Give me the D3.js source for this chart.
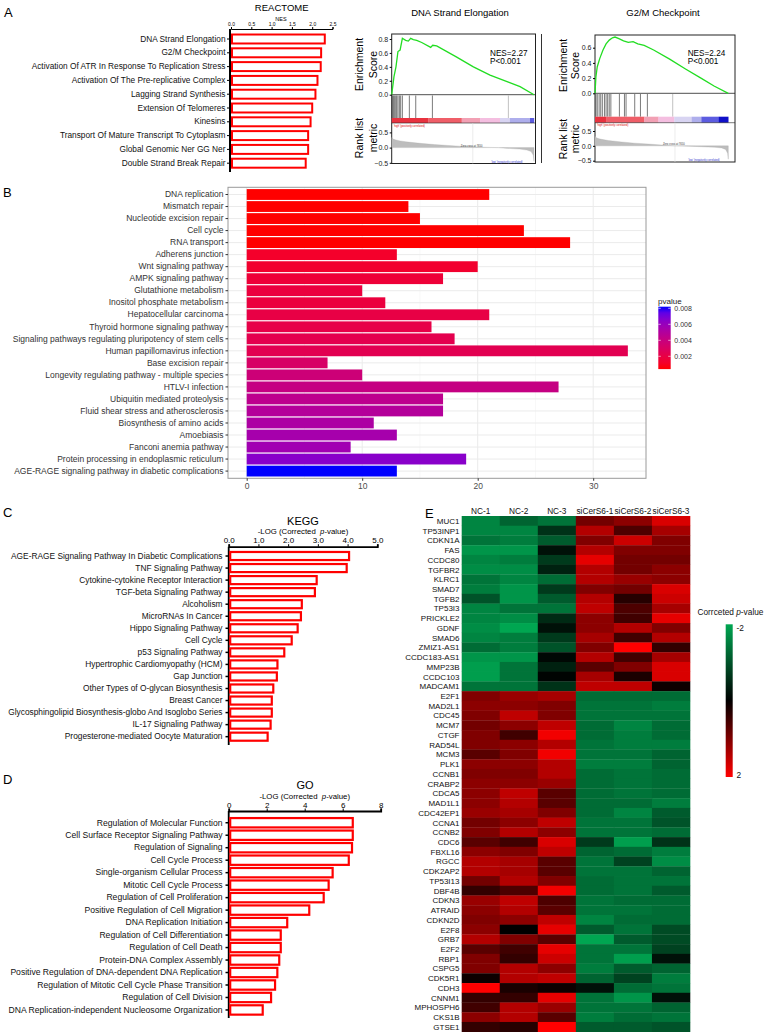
<!DOCTYPE html>
<html><head><meta charset="utf-8">
<script src="https://cdn.jsdelivr.net/npm/d3@7"></script>
<style>body{margin:0;background:#fff} svg{font-family:"Liberation Sans",Arial,sans-serif}</style>
</head><body><svg id="c" width="778" height="1035"></svg>
<script>
// ---------- DATA ----------
const reactomeTerms = ["DNA Strand Elongation","G2/M Checkpoint","Activation Of ATR In Response To Replication Stress","Activation Of The Pre-replicative Complex","Lagging Strand Synthesis","Extension Of Telomeres","Kinesins","Transport Of Mature Transcript To Cytoplasm","Global Genomic Ner GG Ner","Double Strand Break Repair"];
const reactomeNES = [2.31,2.22,2.21,2.13,2.08,2.0,1.96,1.9,1.9,1.84];
const reactomeTicks = [0,0.5,1,1.5,2,2.5];

const gseaTitles = ["DNA Strand Elongation","G2/M Checkpoint"];
const gseaNES = ["NES=2.27","NES=2.24"];
const gseaP = ["P<0.001","P<0.001"];
const es1 = [[0,0],[0.016,0.26],[0.03,0.40],[0.044,0.62],[0.059,0.64],[0.075,0.81],[0.098,0.78],[0.117,0.77],[0.133,0.81],[0.152,0.79],[0.176,0.78],[0.211,0.75],[0.274,0.68],[0.288,0.71],[0.316,0.70],[0.457,0.54],[0.574,0.40],[0.691,0.28],[0.82,0.18],[0.902,0.115],[1,0]];
const es2 = [[0,0],[0.007,0.22],[0.017,0.35],[0.036,0.46],[0.06,0.57],[0.083,0.65],[0.107,0.70],[0.131,0.73],[0.15,0.74],[0.179,0.72],[0.214,0.69],[0.25,0.67],[0.286,0.68],[0.321,0.65],[0.369,0.63],[0.44,0.57],[0.56,0.45],[0.679,0.32],[0.798,0.196],[0.893,0.096],[1,0]];
const hits1 = [0.005,0.012,0.019,0.028,0.035,0.044,0.054,0.063,0.075,0.124,0.169,0.286,0.82];
const hits2 = [0.007,0.017,0.031,0.043,0.055,0.071,0.083,0.095,0.107,0.119,0.183,0.221,0.233,0.298,0.341,0.393,0.583];
const rank1 = [[0,0.33],[0.01,0.28],[0.03,0.25],[0.06,0.22],[0.1,0.19],[0.2,0.14],[0.3,0.1],[0.4,0.07],[0.5,0.04],[0.6,0.02],[0.7,0.005],[0.75,0],[0.8,-0.02],[0.9,-0.05],[0.95,-0.08],[0.98,-0.13],[0.995,-0.25],[1,-0.45]];
const rank2 = [[0,0.33],[0.01,0.27],[0.03,0.24],[0.06,0.21],[0.1,0.18],[0.2,0.13],[0.3,0.09],[0.4,0.06],[0.5,0.03],[0.6,0.0],[0.7,-0.01],[0.8,-0.03],[0.9,-0.05],[0.95,-0.07],[0.98,-0.12],[0.995,-0.25],[1,-0.45]];
const barStops1 = [0,0.258,0.492,0.621,0.761,0.831,0.972,1];
const barStops2 = [0,0.083,0.369,0.476,0.595,0.726,0.798,0.929,1];
const barColors = ["#E8323F","#EF5E68","#F2A0B4","#F4BEE0","#D8D4F2","#AEAEEC","#5C5CE0","#1010C8"];
const esTicks1 = [0,0.2,0.4,0.6,0.8];
const esTicks2 = [0,0.2,0.4,0.6];
const rankTicks = [-0.5,0,0.5];

const keggBTerms = ["DNA replication","Mismatch repair","Nucleotide excision repair","Cell cycle","RNA transport","Adherens junction","Wnt signaling pathway","AMPK signaling pathway","Glutathione metabolism","Inositol phosphate metabolism","Hepatocellular carcinoma","Thyroid hormone signaling pathway","Signaling pathways regulating pluripotency of stem cells","Human papillomavirus infection","Base excision repair","Longevity regulating pathway - multiple species","HTLV-I infection","Ubiquitin mediated proteolysis","Fluid shear stress and atherosclerosis","Biosynthesis of amino acids","Amoebiasis","Fanconi anemia pathway","Protein processing in endoplasmic reticulum","AGE-RAGE signaling pathway in diabetic complications"];
const keggBCounts = [21,14,15,24,28,13,20,17,10,12,21,16,18,33,7,10,27,17,17,11,13,9,19,13];
const keggBPvalues = [0.0004,0.0004,0.0004,0.0004,0.0004,0.0012,0.0013,0.0016,0.0018,0.0018,0.0020,0.0021,0.0023,0.0024,0.0031,0.0037,0.0041,0.0045,0.0049,0.0052,0.0055,0.0057,0.0065,0.0082];
const keggBTicks = [0,10,20,30];
const pvalueTicks = [0.002,0.004,0.006,0.008];

const keggTerms = ["AGE-RAGE Signaling Pathway In Diabetic Complications","TNF Signaling Pathway","Cytokine-cytokine Receptor Interaction","TGF-beta Signaling Pathway","Alcoholism","MicroRNAs In Cancer","Hippo Signaling Pathway","Cell Cycle","p53 Signaling Pathway","Hypertrophic Cardiomyopathy (HCM)","Gap Junction","Other Types of O-glycan Biosynthesis","Breast Cancer","Glycosphingolipid Biosynthesis-globo And Isoglobo Series","IL-17 Signaling Pathway","Progesterone-mediated Oocyte Maturation"];
const keggVals = [4.05,3.97,2.96,2.9,2.46,2.43,2.32,2.12,1.87,1.64,1.62,1.5,1.45,1.45,1.41,1.31];
const keggTicks = [0,1,2,3,4,5];

const goTerms = ["Regulation of Molecular Function","Cell Surface Receptor Signaling Pathway","Regulation of Signaling","Cell Cycle Process","Single-organism Cellular Process","Mitotic Cell Cycle Process","Regulation of Cell Proliferation","Positive Regulation of Cell Migration","DNA Replication Initiation","Regulation of Cell Differentiation","Regulation of Cell Death","Protein-DNA Complex Assembly","Positive Regulation of DNA-dependent DNA Replication","Regulation of Mitotic Cell Cycle Phase Transition","Regulation of Cell Division","DNA Replication-independent Nucleosome Organization"];
const goVals = [6.53,6.53,6.49,6.32,5.47,5.26,5.0,4.24,3.08,2.74,2.74,2.66,2.56,2.44,2.23,1.79];
const goTicks = [0,2,4,6,8];

const samples = ["NC-1","NC-2","NC-3","siCerS6-1","siCerS6-2","siCerS6-3"];
const genes = ["MUC1","TP53INP1","CDKN1A","FAS","CCDC80","TGFBR2","KLRC1","SMAD7","TGFB2","TP53I3","PRICKLE2","GDNF","SMAD6","ZMIZ1-AS1","CCDC183-AS1","MMP23B","CCDC103","MADCAM1","E2F1","MAD2L1","CDC45","MCM7","CTGF","RAD54L","MCM3","PLK1","CCNB1","CRABP2","CDCA5","MAD1L1","CDC42EP1","CCNA1","CCNB2","CDC6","FBXL16","RGCC","CDK2AP2","TP53I13","DBF4B","CDKN3","ATRAID","CDKN2D","E2F8","GRB7","E2F2","RBP1","CSPG5","CDK5R1","CDH3","CNNM1","MPHOSPH6","CKS1B","GTSE1"];
const heat = [
[-1.6,-1.2,-1.4,0.9,1.1,1.7],
[-1.6,-1.6,-0.6,1.4,0.6,1.3],
[-1.4,-1.5,-1.1,1.0,1.6,1.0],
[-1.8,-1.8,-0.2,1.4,1.0,1.0],
[-1.6,-1.5,-0.7,1.8,0.9,0.9],
[-1.7,-1.7,-0.4,1.4,0.9,1.1],
[-1.4,-1.6,-1.3,1.4,1.2,1.1],
[-1.5,-1.8,-0.7,1.0,0.9,1.7],
[-1.0,-1.8,-1.1,1.4,0.3,1.6],
[-1.6,-1.4,-1.4,1.5,0.6,1.3],
[-1.6,-1.7,-0.5,1.1,0.5,1.8],
[-1.7,-2.0,-0.2,1.1,1.4,1.0],
[-1.6,-1.5,-0.7,1.3,0.5,1.4],
[-1.3,-1.5,-1.0,1.0,2.0,0.4],
[-1.8,-1.8,-0.1,1.4,0.5,1.3],
[-1.9,-1.4,-0.4,0.7,1.0,1.7],
[-1.9,-1.4,-0.05,1.3,0.2,1.7],
[-1.4,-1.4,-0.6,1.5,1.5,0.1],
[1.0,1.2,1.3,-1.3,-1.3,-1.3],
[1.1,1.1,1.0,-1.4,-1.4,-1.5],
[1.0,1.5,1.0,-1.4,-1.4,-1.4],
[0.9,1.1,1.5,-1.3,-1.6,-1.3],
[1.0,0.5,1.9,-1.3,-1.5,-1.3],
[1.0,1.1,1.4,-1.4,-1.5,-1.5],
[0.7,1.0,1.9,-1.4,-1.4,-1.2],
[1.1,1.1,1.4,-1.5,-1.5,-1.2],
[1.0,1.0,1.4,-1.3,-1.4,-1.3],
[1.1,1.1,1.2,-1.3,-1.4,-1.3],
[1.1,1.5,0.7,-1.3,-1.4,-1.3],
[1.1,1.4,0.7,-1.3,-1.3,-1.5],
[1.2,1.3,1.0,-1.3,-1.6,-1.1],
[0.9,1.1,1.5,-1.4,-1.4,-1.0],
[1.0,1.4,1.1,-1.4,-1.4,-1.3],
[0.7,0.5,1.7,-0.7,-1.9,-0.6],
[1.1,1.0,1.5,-1.2,-1.3,-1.5],
[1.4,1.3,0.7,-1.4,-0.8,-1.7],
[1.4,1.3,0.7,-1.4,-1.4,-1.2],
[0.9,1.4,1.0,-1.3,-1.4,-1.4],
[0.4,0.6,1.9,-1.3,-1.4,-1.1],
[1.2,1.5,0.6,-1.4,-1.3,-1.3],
[1.1,1.4,0.7,-1.4,-1.4,-1.3],
[1.0,1.1,1.5,-1.6,-1.3,-1.3],
[1.1,0.0,1.8,-1.1,-1.4,-0.9],
[1.4,1.0,0.7,-2.0,-1.1,-0.9],
[0.7,0.5,1.8,-1.4,-1.4,-0.8],
[1.0,0.4,1.6,-1.4,-1.9,-0.2],
[1.0,1.4,1.1,-1.5,-1.1,-1.2],
[0.1,1.4,1.5,-1.2,-0.8,-1.5],
[2.0,0.2,0.1,-0.2,-1.3,-1.4],
[0.4,0.4,1.8,-1.4,-1.8,-0.2],
[0.5,1.4,1.2,-1.4,-1.4,-1.2],
[1.1,1.4,0.7,-1.5,-1.3,-1.4],
[0.4,0.3,2.0,-1.1,-1.1,-1.0]
];
const heatLegendTicks = [-2,2];

// ---------- DRAW ----------
const svg = d3.select("#c");
const FONT = "Liberation Sans, Arial, sans-serif";
function text(g, x, y, s, size, anchor, fill, extra) {
  const t = g.append("text").attr("x", x).attr("y", y).attr("font-size", size)
    .attr("text-anchor", anchor || "start").attr("fill", fill || "#000").text(s);
  if (extra) extra(t);
  return t;
}
function styleAxis(g, size, color) {
  g.attr("font-family", FONT).attr("font-size", size);
  g.selectAll("text").attr("fill", color || "#000");
}

// Panel letters
text(svg, 4, 17, "A", 13);
text(svg, 3, 197, "B", 13);
text(svg, 3, 517, "C", 13);
text(svg, 3, 784, "D", 13);
text(svg, 425, 518, "E", 13);

// ----- Panel A: REACTOME -----
{
  const g = svg.append("g");
  const x = d3.scaleLinear().domain([0, 2.5]).range([231, 332.5]);
  const y = d3.scaleBand().domain(reactomeTerms).range([32.1, 170.1]).paddingInner(0.35).paddingOuter(0.175);
  text(g, 281.7, 10.7, "REACTOME", 9.5, "middle");
  text(g, 281, 20.5, "NES", 5.5, "middle");
  const ax = g.append("g").attr("transform", "translate(0,29)")
    .call(d3.axisTop(x).tickValues(reactomeTicks).tickFormat(d3.format(".1f")).tickSize(2).tickPadding(1));
  styleAxis(ax, 5);
  ax.select(".domain").attr("stroke-width", 1);
  g.append("line").attr("x1", 230).attr("x2", 230).attr("y1", 29).attr("y2", 172).attr("stroke", "#000").attr("stroke-width", 2);
  const ay = g.append("g").attr("transform", "translate(229,0)")
    .call(d3.axisLeft(y).tickSize(2).tickPadding(1.5));
  ay.select(".domain").remove();
  styleAxis(ay, 8.3, "#111");
  g.selectAll("rect.ra").data(reactomeTerms).join("rect").attr("class", "ra")
    .attr("x", x(0) + 1).attr("y", d => y(d))
    .attr("width", (d, i) => x(reactomeNES[i]) - x(0) - 1).attr("height", y.bandwidth())
    .attr("fill", "#fff").attr("stroke", "#FF0000").attr("stroke-width", 2);
}

// ----- GSEA plots -----
function drawGsea(cfg) {
  const g = svg.append("g");
  const x = d3.scaleLinear().domain([0, 1]).range([cfg.x0, cfg.x1]);
  const yE = d3.scaleLinear().domain(cfg.esDom).range(cfg.esRange);
  const yR = d3.scaleLinear().domain([-0.5, 0.5]).range(cfg.rankRange);
  text(g, cfg.titleX, 15.5, cfg.title, 9.5, "middle");
  g.append("rect").attr("x", cfg.x0).attr("y", cfg.top).attr("width", cfg.boxR - cfg.x0).attr("height", cfg.bottom - cfg.top)
    .attr("fill", "none").attr("stroke", "#222").attr("stroke-width", 1);
  g.append("line").attr("x1", cfg.x0).attr("x2", cfg.boxR).attr("y1", yE(0)).attr("y2", yE(0)).attr("stroke", "#222").attr("stroke-width", 0.8);
  g.append("path").datum(cfg.es).attr("fill", "none").attr("stroke", "#22DD22").attr("stroke-width", 1.3)
    .attr("d", d3.line().x(d => x(d[0])).y(d => yE(d[1])));
  const aE = g.append("g").attr("transform", `translate(${cfg.x0},0)`)
    .call(d3.axisLeft(yE).tickValues(cfg.esTicks).tickFormat(d3.format(".1f")).tickSize(2).tickPadding(1.5));
  aE.select(".domain").remove();
  styleAxis(aE, 7, "#222");
  g.selectAll("line.hit").data(cfg.hits).join("line").attr("class", "hit")
    .attr("x1", d => x(d)).attr("x2", d => x(d)).attr("y1", cfg.hitsTop).attr("y2", cfg.hitsBot)
    .attr("stroke", d => d > 0.5 ? "#999" : "#222").attr("stroke-width", 0.6);
  for (let i = 0; i < cfg.stops.length - 1; i++) {
    g.append("rect").attr("x", x(cfg.stops[i])).attr("y", cfg.hitsBot).attr("width", x(cfg.stops[i + 1]) - x(cfg.stops[i]) + 0.2)
      .attr("height", cfg.barBot - cfg.hitsBot).attr("fill", barColors[Math.min(i, barColors.length - 1)]);
  }
  g.append("line").attr("x1", cfg.x0).attr("x2", cfg.boxR).attr("y1", cfg.barBot).attr("y2", cfg.barBot).attr("stroke", "#222").attr("stroke-width", 0.6);
  g.append("line").attr("x1", x(cfg.zero)).attr("x2", x(cfg.zero)).attr("y1", cfg.barBot).attr("y2", cfg.bottom).attr("stroke", "#ddd").attr("stroke-width", 0.6);
  g.append("path").datum(cfg.rank).attr("fill", "#BDBDBD").attr("stroke", "#AAA").attr("stroke-width", 0.3)
    .attr("d", d3.area().x(d => x(d[0])).y0(yR(0)).y1(d => yR(d[1])));
  const aR = g.append("g").attr("transform", `translate(${cfg.x0},0)`)
    .call(d3.axisLeft(yR).tickValues(rankTicks).tickFormat(d3.format(".1f")).tickSize(2).tickPadding(1.5));
  aR.select(".domain").remove();
  styleAxis(aR, 7, "#222");
  text(g, cfg.x0 + 2, cfg.barBot + 3.5, "'high' (positively correlated)", 2.6, "start", "#d00");
  text(g, x(cfg.zero) - 12, yR(0) - 1, "Zero cross at 7650", 2.6, "start", "#333");
  text(g, x(0.7), cfg.bottom - 1, "'low' (negatively correlated)", 2.6, "start", "#33c");
  const lbl = (cx, cy, s) => text(g, 0, 0, s, 10.5, "middle", "#000", t => t.attr("transform", `translate(${cx},${cy}) rotate(-90)`));
  lbl(cfg.lab1, cfg.esMid, "Enrichment");
  lbl(cfg.lab2, cfg.esMid, "Score");
  lbl(cfg.lab1, cfg.rankMid, "Rank list");
  lbl(cfg.lab2, cfg.rankMid, "metric");
  text(g, cfg.nesX, 55.5, cfg.nes, 8.2);
  text(g, cfg.nesX, 63.8, cfg.p, 8.2);
}
drawGsea({title: gseaTitles[0], titleX: 460, x0: 391.7, x1: 534, boxR: 535.5, top: 34, bottom: 163.5,
  esDom: [0, 0.8], esRange: [94.7, 39], esTicks: esTicks1, es: es1, hits: hits1, hitsTop: 95.5, hitsBot: 118, barBot: 123,
  stops: barStops1, rank: rank1, rankRange: [162.8, 132.4], zero: 0.57,
  lab1: 362.5, lab2: 376.5, esMid: 64.5, rankMid: 138, nesX: 490, nes: gseaNES[0], p: gseaP[0]});
drawGsea({title: gseaTitles[1], titleX: 663, x0: 595, x1: 728.3, boxR: 735, top: 35, bottom: 162,
  esDom: [0, 0.6], esRange: [93.3, 47.7], esTicks: esTicks2, es: es2, hits: hits2, hitsTop: 94, hitsBot: 116.7, barBot: 122.7,
  stops: barStops2, rank: rank2, rankRange: [160.7, 131], zero: 0.6,
  lab1: 566.5, lab2: 578.5, esMid: 65.5, rankMid: 139, nesX: 687.7, nes: gseaNES[1], p: gseaP[1]});
svg.append("line").attr("x1", 541.5).attr("x2", 541.5).attr("y1", 34).attr("y2", 163).attr("stroke", "#333").attr("stroke-width", 1);

// ----- Panel B: KEGG pathway bar chart (ggplot style) -----
{
  const g = svg.append("g");
  const L = 228, R = 646, T = 187.3, B = 478.3;
  const x = d3.scaleLinear().domain([0, 30]).range([246.7, 593.2]);
  const y = d3.scaleBand().domain(keggBTerms).range([T + 0.1 * 12.02, B - 0.1 * 12.02]).paddingInner(0.1).paddingOuter(0.05);
  const col = d3.scaleLinear().domain([0.0004, 0.0082]).range(["#FF0000", "#0000FF"]).interpolate(d3.interpolateLab);
  g.append("rect").attr("x", L).attr("y", T).attr("width", R - L).attr("height", B - T).attr("fill", "#fff");
  [5, 15, 25].forEach(v => g.append("line").attr("x1", x(v)).attr("x2", x(v)).attr("y1", T).attr("y2", B).attr("stroke", "#F4F4F4").attr("stroke-width", 0.6));
  keggBTicks.forEach(v => g.append("line").attr("x1", x(v)).attr("x2", x(v)).attr("y1", T).attr("y2", B).attr("stroke", "#EBEBEB").attr("stroke-width", 1));
  keggBTerms.forEach(d => g.append("line").attr("x1", L).attr("x2", R).attr("y1", y(d) + y.bandwidth() / 2).attr("y2", y(d) + y.bandwidth() / 2).attr("stroke", "#EBEBEB").attr("stroke-width", 1));
  g.selectAll("rect.kb").data(keggBTerms).join("rect").attr("class", "kb")
    .attr("x", x(0)).attr("y", d => y(d)).attr("width", (d, i) => x(keggBCounts[i]) - x(0)).attr("height", y.bandwidth())
    .attr("fill", (d, i) => col(keggBPvalues[i]));
  g.append("rect").attr("x", L).attr("y", T).attr("width", R - L).attr("height", B - T).attr("fill", "none").attr("stroke", "#9a9a9a").attr("stroke-width", 1);
  const ax = g.append("g").attr("transform", `translate(0,${B})`).call(d3.axisBottom(x).tickValues(keggBTicks).tickSize(2.5).tickPadding(2));
  ax.select(".domain").remove();
  ax.selectAll("line").attr("stroke", "#333");
  styleAxis(ax, 8.5, "#4D4D4D");
  const ay = g.append("g").attr("transform", `translate(${L},0)`).call(d3.axisLeft(y).tickSize(2.5).tickPadding(2));
  ay.select(".domain").remove();
  ay.selectAll("line").attr("stroke", "#333");
  styleAxis(ay, 8.5, "#333");
  text(g, 658, 303.5, "pvalue", 8, "start", "#222");
  const ly = d3.scaleLinear().domain([0.002, 0.008]).range([356.3, 308.3]);
  const lg = svg.append("defs").append("linearGradient").attr("id", "pg").attr("x1", 0).attr("x2", 0).attr("y1", 1).attr("y2", 0);
  d3.range(0, 1.001, 0.1).forEach(t => lg.append("stop").attr("offset", t).attr("stop-color", col(0.0004 + t * 0.0078)));
  g.append("rect").attr("x", 658.3).attr("y", ly(0.0082)).attr("width", 12.4).attr("height", ly(0.0004) - ly(0.0082)).attr("fill", "url(#pg)");
  pvalueTicks.forEach(v => {
    g.append("line").attr("x1", 658.3).attr("x2", 660.8).attr("y1", ly(v)).attr("y2", ly(v)).attr("stroke", "#fff").attr("stroke-width", 0.6);
    g.append("line").attr("x1", 668.2).attr("x2", 670.7).attr("y1", ly(v)).attr("y2", ly(v)).attr("stroke", "#fff").attr("stroke-width", 0.6);
    text(g, 674.3, ly(v) + 2.5, d3.format(".3f")(v), 7, "start", "#333");
  });
}

// ----- Panels C & D: outlined horizontal bars -----
function drawHBar(cfg) {
  const g = svg.append("g");
  const x = d3.scaleLinear().domain([0, cfg.max]).range([228.7, cfg.xMax]);
  const y = d3.scaleBand().domain(cfg.terms).range(cfg.yRange).paddingInner(cfg.pad).paddingOuter(cfg.pad / 2);
  text(g, cfg.titleX, cfg.titleY, cfg.title, 11, "middle");
  text(g, cfg.subX, cfg.subY, "", 7.8, "middle", "#000", t => {
    t.append("tspan").text("-LOG (Corrected\u00A0\u00A0");
    t.append("tspan").attr("font-style", "italic").text("p");
    t.append("tspan").text("-value)");
  });
  const ax = g.append("g").attr("transform", `translate(0,${cfg.axisY})`)
    .call(d3.axisTop(x).tickValues(cfg.ticks).tickSize(2.5).tickPadding(1));
  ax.select(".domain").attr("stroke-width", 1.8);
  styleAxis(ax, 8, "#000");
  g.append("line").attr("x1", 228.7).attr("x2", 228.7).attr("y1", cfg.axisY).attr("y2", cfg.axisBot).attr("stroke", "#000").attr("stroke-width", 1.8);
  const ay = g.append("g").attr("transform", "translate(228,0)").call(d3.axisLeft(y).tickSize(2.5).tickPadding(3));
  ay.select(".domain").remove();
  ay.selectAll("line").attr("stroke-width", 1.5);
  styleAxis(ay, cfg.labelSize, "#111");
  g.selectAll("rect.hb").data(cfg.terms).join("rect").attr("class", "hb")
    .attr("x", x(0) + 1.5).attr("y", d => y(d)).attr("width", (d, i) => x(cfg.vals[i]) - x(0) - 1.5).attr("height", y.bandwidth())
    .attr("fill", "#fff").attr("stroke", "#FF0000").attr("stroke-width", 2.2);
}
drawHBar({terms: keggTerms, vals: keggVals, max: 5, xMax: 377.3, ticks: keggTicks, yRange: [550, 742.7], pad: 0.33, labelSize: 8.35,
  title: "KEGG", titleX: 303, titleY: 525, subX: 303, subY: 533.5, axisY: 546.7, axisBot: 745});
drawHBar({terms: goTerms, vals: goVals, max: 8, xMax: 380.7, ticks: goTicks, yRange: [816.5, 1016.2], pad: 0.25, labelSize: 8.6,
  title: "GO", titleX: 305, titleY: 789.3, subX: 304.7, subY: 799.3, axisY: 811, axisBot: 1018});

// ----- Panel E: heatmap -----
{
  const g = svg.append("g");
  const x = d3.scaleBand().domain(samples).range([461.7, 690]);
  const y = d3.scaleBand().domain(genes).range([516, 1031.7]);
  const col = d3.scaleLinear().domain([-2, 0, 2]).range(["#00A651", "#000000", "#FF0000"]).clamp(true);
  genes.forEach((gn, i) => samples.forEach((s, j) => {
    g.append("rect").attr("x", x(s)).attr("y", y(gn)).attr("width", x.bandwidth() + 0.3).attr("height", y.bandwidth() + 0.3)
      .attr("fill", col(heat[i][j]));
  }));
  samples.forEach(s => text(g, x(s) + x.bandwidth() / 2, 514, s, 8.3, "middle", "#111"));
  genes.forEach(gn => text(g, 459.5, y(gn) + y.bandwidth() / 2 + 3, gn, 8, "end", "#111"));
  text(g, 697.5, 615, "", 8.3, "start", "#111", t => {
    t.append("tspan").text("Corrceted ");
    t.append("tspan").attr("font-style", "italic").text("p");
    t.append("tspan").text("-value");
  });
  const ly = d3.scaleLinear().domain([-2, 2]).range([624.3, 777]);
  const lg = svg.append("defs").append("linearGradient").attr("id", "hg").attr("x1", 0).attr("x2", 0).attr("y1", 0).attr("y2", 1);
  [-2, -1, 0, 1, 2].forEach(v => lg.append("stop").attr("offset", (v + 2) / 4).attr("stop-color", col(v)));
  g.append("rect").attr("x", 725.7).attr("y", ly(-2)).attr("width", 7).attr("height", ly(2) - ly(-2)).attr("fill", "url(#hg)");
  heatLegendTicks.forEach(v => text(g, 736.5, ly(v) + (v < 0 ? 7 : 1), String(v), 8.3, "start", "#111"));
}
</script></body></html>
